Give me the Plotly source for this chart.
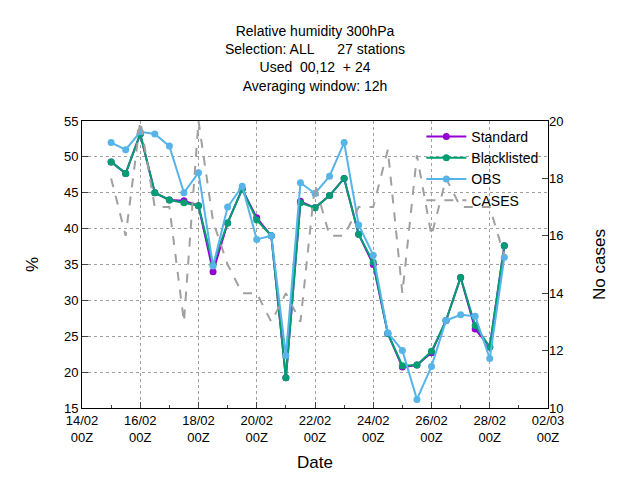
import pandas as pd
import plotly.graph_objects as go

times = pd.date_range('2021-02-15 00:00', periods=28, freq='12h')

standard = [49.3, 47.7, 53.2, 45.0, 44.0, 43.9, 43.2, 34.0, 40.8, 45.5, 41.5, 39.0, 19.2, 43.8,
            42.9, 44.6, 47.0, 39.2, 35.0, 25.4, 20.7, 21.0, 22.7, 27.2, 33.2, 26.0, 23.5, 37.6]
blacklisted = [49.3, 47.7, 53.2, 45.0, 44.0, 43.6, 43.2, 35.0, 40.8, 45.5, 41.2, 39.0, 19.2, 43.6,
               42.9, 44.6, 47.0, 39.2, 35.3, 25.4, 20.9, 21.0, 22.9, 27.2, 33.2, 26.5, 23.5, 37.6]
obs = [52.0, 51.0, 53.5, 53.2, 51.5, 45.0, 47.8, 34.8, 43.0, 45.9, 38.5, 39.0, 22.3, 46.4,
       44.9, 47.3, 52.0, 40.5, 36.3, 25.5, 23.0, 16.2, 20.8, 27.2, 28.0, 27.8, 21.9, 36.0]
cases = [18, 16, 20, 17, 17, 13, 20, 16.5, 15, 14, 14, 13, 14, 13,
         17.8, 16, 16, 17, 17, 19, 14, 18.8, 16, 18, 17, 17, 17, 15.3]

tickvals = pd.date_range('2021-02-14', '2021-03-02', freq='2D')
ticktext = [d.strftime('%d/%m') + '<br>00Z' for d in tickvals]

font = dict(family='Liberation Sans', size=14, color='black')

fig = go.Figure()
fig.add_trace(go.Scatter(x=times, y=standard, name='Standard', mode='lines+markers',
                         line=dict(color='#9400d3', width=2), marker=dict(size=7, symbol='circle')))
fig.add_trace(go.Scatter(x=times, y=blacklisted, name='Blacklisted', mode='lines+markers',
                         line=dict(color='#009e73', width=2), marker=dict(size=7, symbol='circle')))
fig.add_trace(go.Scatter(x=times, y=obs, name='OBS', mode='lines+markers',
                         line=dict(color='#56b4e9', width=2), marker=dict(size=7, symbol='circle')))
fig.add_trace(go.Scatter(x=times, y=cases, name='CASES', mode='lines', yaxis='y2',
                         line=dict(color='#a0a0a0', width=2, dash='dash')))

title = 'Relative humidity 300hPa<br>Selection: ALL      27 stations<br>Used  00,12  + 24<br>Averaging window: 12h'

fig.update_layout(
    width=640, height=480,
    plot_bgcolor='white', paper_bgcolor='white',
    font=font,
    margin=dict(l=74, r=100, t=113, b=80, autoexpand=False),
    annotations=[dict(text=title, xref='paper', yref='paper', x=0.5, y=1.0, yshift=100,
                      xanchor='center', yanchor='top', showarrow=False, font=dict(size=14))],
    showlegend=True,
    legend=dict(x=0.99, xanchor='right', y=1.0, yanchor='top', bgcolor='rgba(0,0,0,0)',
                font=dict(size=14), itemwidth=40, tracegroupgap=0),
    xaxis=dict(range=[pd.Timestamp('2021-02-14'), pd.Timestamp('2021-03-02')],
               tickvals=tickvals, ticktext=ticktext, showgrid=True, gridcolor='#a0a0a0',
               griddash='dot', showline=True, linecolor='black', mirror=True,
               ticks='inside', ticklen=6, tickfont=dict(size=13),
               title=dict(text='Date', standoff=12),
               minor=dict(dtick=86400000, ticks='inside', ticklen=3, showgrid=False)),
    yaxis=dict(range=[15, 55], dtick=5, showgrid=True, gridcolor='#a0a0a0', griddash='dot',
               showline=True, linecolor='black', mirror=True, ticks='inside', ticklen=6,
               tickfont=dict(size=13), title=dict(text='%', standoff=20)),
    yaxis2=dict(range=[10, 20], dtick=2, overlaying='y', side='right', ticks='inside',
                ticklen=6, showgrid=False, tickfont=dict(size=13),
                title=dict(text='No cases', standoff=30)),
)

fig.write_html('out.html')
